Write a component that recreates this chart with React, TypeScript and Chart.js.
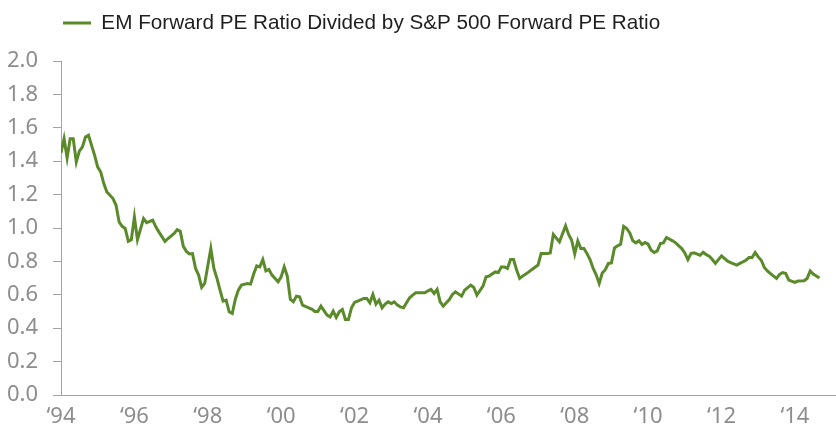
import React, { useEffect, useRef } from "react";
import { Chart, registerables } from "chart.js";

Chart.register(...registerables);

const seriesLabel = "EM Forward PE Ratio Divided by S&P 500 Forward PE Ratio";

const months = [
  "1994-01","1994-02","1994-03","1994-04","1994-05","1994-06","1994-07","1994-08","1994-09","1994-10","1994-11","1994-12",
  "1995-01","1995-02","1995-03","1995-04","1995-06","1995-07","1995-08","1995-09","1995-10","1995-11","1995-12",
  "1996-01","1996-02","1996-04","1996-05","1996-07","1996-08","1996-09","1996-11","1996-12",
  "1997-02","1997-03","1997-04","1997-05","1997-06","1997-07","1997-08","1997-09","1997-10","1997-11","1997-12",
  "1998-02","1998-03","1998-04","1998-05","1998-06","1998-07","1998-08","1998-09","1998-10","1998-11","1998-12",
  "1999-02","1999-03","1999-04","1999-05","1999-06","1999-07","1999-08","1999-09","1999-10","1999-12",
  "2000-01","2000-02","2000-03","2000-04","2000-05","2000-06","2000-07","2000-08","2000-10","2000-11","2000-12",
  "2001-01","2001-02","2001-04","2001-05","2001-06","2001-07","2001-08","2001-09","2001-10","2001-11","2001-12",
  "2002-01","2002-02","2002-04","2002-05","2002-06","2002-07","2002-08","2002-09","2002-10","2002-11","2002-12",
  "2003-01","2003-02","2003-03","2003-04","2003-05","2003-07","2003-08","2003-09","2003-10","2003-12",
  "2004-01","2004-02","2004-03","2004-04","2004-05","2004-06","2004-07","2004-08","2004-09","2004-10","2004-12",
  "2005-01","2005-03","2005-04","2005-05","2005-07","2005-08","2005-09","2005-11","2005-12",
  "2006-01","2006-02","2006-03","2006-04","2006-05","2006-06","2006-07","2006-08","2006-09","2006-10","2006-11",
  "2007-01","2007-02","2007-04","2007-05","2007-06","2007-08","2007-10","2007-11","2007-12",
  "2008-01","2008-02","2008-03","2008-04","2008-05","2008-06","2008-07","2008-08","2008-09","2008-10","2008-11","2008-12",
  "2009-01","2009-02","2009-03","2009-04","2009-05","2009-06","2009-07","2009-08","2009-09","2009-10","2009-11","2009-12",
  "2010-01","2010-02","2010-03","2010-04","2010-05","2010-06","2010-07","2010-09","2010-10","2010-12",
  "2011-01","2011-02","2011-03","2011-04","2011-06","2011-07","2011-08","2011-09","2011-10","2011-11",
  "2012-01","2012-03","2012-04","2012-06","2012-07","2012-09","2012-10","2012-11","2012-12",
  "2013-01","2013-02","2013-03","2013-04","2013-05","2013-07","2013-08","2013-09","2013-10","2013-11",
  "2014-01","2014-02","2014-04","2014-05","2014-06","2014-07","2014-08","2014-09",
];

const ratios = [
  1.45,1.535,1.42,1.535,1.535,1.395,1.46,1.485,1.545,1.555,1.495,1.435,
  1.365,1.335,1.266,1.216,1.176,1.136,1.036,1.01,0.997,0.92,0.93,
  1.066,0.93,1.056,1.032,1.047,1.007,0.977,0.92,0.937,
  0.967,0.99,0.98,0.89,0.86,0.845,0.847,0.758,0.718,0.644,0.668,
  0.877,0.758,0.698,0.628,0.562,0.568,0.498,0.488,0.572,0.628,0.658,
  0.668,0.664,0.724,0.773,0.767,0.811,0.743,0.752,0.718,0.678,
  0.708,0.767,0.712,0.572,0.558,0.592,0.588,0.538,0.522,0.514,0.5,
  0.5,0.532,0.478,0.468,0.502,0.464,0.498,0.512,0.452,0.452,0.522,
  0.554,0.562,0.578,0.578,0.552,0.602,0.544,0.568,0.522,0.544,0.558,
  0.548,0.558,0.538,0.528,0.522,0.582,0.598,0.612,0.612,0.612,
  0.624,0.632,0.608,0.632,0.558,0.532,0.552,0.572,0.602,0.618,0.592,
  0.628,0.658,0.644,0.598,0.652,0.708,0.712,0.737,0.733,
  0.767,0.767,0.758,0.811,0.811,0.748,0.698,0.712,0.724,0.737,0.752,
  0.778,0.847,0.847,0.85,0.961,0.917,1.013,0.961,0.927,
  0.845,0.922,0.877,0.877,0.847,0.811,0.76,0.72,0.668,0.73,0.75,0.788,
  0.791,0.881,0.893,0.903,1.01,0.997,0.971,0.923,0.911,0.923,0.901,0.913,
  0.903,0.867,0.853,0.863,0.907,0.911,0.943,0.923,0.911,0.877,
  0.851,0.811,0.847,0.851,0.837,0.855,0.84,0.831,0.811,0.788,
  0.833,0.801,0.793,0.778,0.788,0.807,0.823,0.823,0.853,
  0.827,0.807,0.764,0.743,0.727,0.698,0.722,0.733,0.727,0.688,
  0.674,0.682,0.684,0.698,0.743,0.724,0.713,0.701,
];

const xTickYears = [1994, 1996, 1998, 2000, 2002, 2004, 2006, 2008, 2010, 2012, 2014];
const xTickLabels = ["\u201894", "\u201896", "\u201898", "\u201800", "\u201802", "\u201804", "\u201806", "\u201808", "\u201810", "\u201812", "\u201814"];

const LINE_COLOR = "#5b8a2b";
const AXIS_COLOR = "#a3a3a3";
const TICK_TEXT = "#8d8d8d";
const TICK_FAMILY = "'Noto Sans', 'Open Sans', 'Liberation Sans', sans-serif";

function monthToYear(m: string): number {
  const [y, mo] = m.split("-").map(Number);
  return y + (mo - 1) / 12;
}

export default function App() {
  const canvasRef = useRef<HTMLCanvasElement | null>(null);

  useEffect(() => {
    const canvas = canvasRef.current;
    if (!canvas) return;
    const points = months.map((m, i) => ({ x: monthToYear(m), y: ratios[i] }));
    const tickFont = { family: TICK_FAMILY, size: 22, weight: "normal condensed" as any };
    const chart = new Chart(canvas, {
      type: "line",
      data: {
        datasets: [
          {
            label: seriesLabel,
            data: points,
            borderColor: LINE_COLOR,
            backgroundColor: LINE_COLOR,
            borderWidth: 3,
            pointRadius: 0,
            tension: 0,
            fill: false,
          },
        ],
      },
      options: {
        responsive: false,
        animation: false,
        events: [],
        layout: { padding: { left: 0, top: 10.6, right: 0, bottom: 0 } },
        plugins: {
          tooltip: { enabled: false },
          legend: {
            display: true,
            position: "top",
            align: "start",
            fullSize: false,
            labels: {
              usePointStyle: true,
              pointStyle: "line",
              pointStyleWidth: 28,
              boxHeight: 3,
              padding: 2,
              color: "#1e1e1e",
              font: { family: "'Liberation Sans', Arial, sans-serif", size: 20.7 },
            },
          },
          title: {
            display: true,
            text: "",
            weight: 500,
            padding: 0,
            font: { size: 17.7, lineHeight: 1 },
          },
        },
        scales: {
          x: {
            type: "linear",
            min: 1994,
            max: 2015.12,
            afterBuildTicks: (scale: any) => {
              scale.ticks = xTickYears.map((v) => ({ value: v }));
            },
            afterFit: (scale: any) => {
              scale.height = 32;
            },
            grid: { display: false, drawTicks: false },
            border: { display: true, color: AXIS_COLOR, width: 1 },
            ticks: {
              autoSkip: false,
              maxRotation: 0,
              padding: 9,
              color: TICK_TEXT,
              font: tickFont,
              callback: (value: any) => {
                const idx = xTickYears.indexOf(Number(value));
                return idx >= 0 ? xTickLabels[idx] : "";
              },
            },
          },
          y: {
            min: 0,
            max: 2,
            afterFit: (scale: any) => {
              scale.width = 61;
            },
            grid: {
              display: true,
              drawOnChartArea: false,
              drawTicks: true,
              tickLength: 8,
              color: AXIS_COLOR,
            },
            border: { display: true, color: AXIS_COLOR, width: 1 },
            ticks: {
              stepSize: 0.2,
              padding: 15,
              color: TICK_TEXT,
              font: tickFont,
              callback: (value: any) => Number(value).toFixed(1),
            },
          },
        },
      },
    });
    return () => chart.destroy();
  }, []);

  return (
    <div style={{ position: "absolute", left: 0, top: 0, width: 836, height: 427, background: "#ffffff" }}>
      <canvas ref={canvasRef} width={836} height={427} style={{ display: "block" }} />
    </div>
  );
}
